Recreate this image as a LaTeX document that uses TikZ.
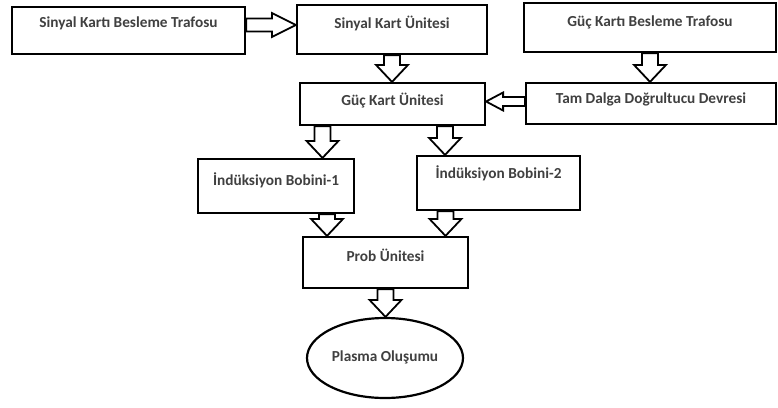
\documentclass[tikz,border=0pt]{standalone}
\usepackage{fontspec}
\setmainfont{Carlito}
\usetikzlibrary{
  backgrounds,
  calc,
  positioning,
  shapes.geometric
}
\tikzset{
  shaft half/.store in=\shafthalf,
  head half/.store in=\headhalf,
  head len/.store in=\headlen,
  shaft half=8pt,
  head half=16pt,
  head len=17pt,
  hollow flow/.style={
    draw=black,
    line width=1.8pt,
    fill=white,
    line join=miter,
    to path={
      ($(\tikztostart)!\shafthalf!90:(\tikztotarget)$)
      -- ($($(\tikztotarget)!\headlen!(\tikztostart)$)!\shafthalf!-90:(\tikztostart)$)
      -- ($($(\tikztotarget)!\headlen!(\tikztostart)$)!\headhalf!-90:(\tikztostart)$)
      -- (\tikztotarget)
      -- ($($(\tikztotarget)!\headlen!(\tikztostart)$)!\headhalf!90:(\tikztostart)$)
      -- ($($(\tikztotarget)!\headlen!(\tikztostart)$)!\shafthalf!90:(\tikztostart)$)
      -- ($(\tikztostart)!\shafthalf!-90:(\tikztotarget)$)
      -- cycle
    }
  },
  box/.style={
    draw=black,
    line width=2.2pt,
    fill=white,
    align=center,
    inner sep=0pt,
    text=black!75,
    text height=10.5pt,
    font=\fontsize{15.3}{18}\selectfont\bfseries
  },
  endstate/.style={
    box,
    ellipse,
    text depth=3pt
  }
}

\begin{document}
\begin{tikzpicture}[x=1pt,y=-1pt]
  \useasboundingbox (0,0) rectangle (778,407);

  % top row
  \node[box,minimum width=233pt,minimum height=47pt,text depth=16.5pt] (sigtrafo) at (128.5,30.5) {Sinyal Kartı Besleme Trafosu};
  \node[box,minimum width=190pt,minimum height=49pt,text depth=12.5pt] (sigcard) at (392,29.5) {Sinyal Kart Ünitesi};
  \node[box,minimum width=252pt,minimum height=49pt,text depth=12.5pt] (powtrafo) at (650,27.5) {Güç Kartı Besleme Trafosu};

  % power stage
  \node[box,minimum width=185pt,minimum height=42pt,text depth=7.5pt] (powcard) at (392.5,104) {Güç Kart Ünitesi};
  \node[box,minimum width=250pt,minimum height=41pt,text depth=10.5pt] (rectifier) at (651,103.5) {Tam Dalga Doğrultucu Devresi};

  % coils
  \node[box,minimum width=156pt,minimum height=54pt,text depth=11.5pt] (coil1) at (276,186) {İndüksiyon Bobini-1};
  \node[box,minimum width=163pt,minimum height=54pt,text depth=19.5pt] (coil2) at (498.5,183) {İndüksiyon Bobini-2};

  % probe and plasma
  \node[box,minimum width=165pt,minimum height=51pt,text depth=12.5pt] (probe) at (385.5,262.5) {Prob Ünitesi};
  \node[endstate,minimum width=156pt,minimum height=80pt] (plasma) at (385,358) {Plasma Oluşumu};

  \coordinate (a1) at ([yshift=5.5pt]sigtrafo.east);
  \coordinate (a4) at ([yshift=2pt]rectifier.west);
  \coordinate (a5) at ([xshift=-70pt]powcard.south);
  \coordinate (a6) at ([xshift=52.5pt]powcard.south);
  \coordinate (a7) at ([xshift=51pt]coil1.south);
  \coordinate (a8) at ([xshift=-53pt]coil2.south);

  \begin{scope}[on background layer]
    \draw[hollow flow,shaft half=6.5pt,head half=12pt,head len=24pt] (a1) to (a1 -| sigcard.west);
    \draw[hollow flow] (sigcard.south) to (sigcard.south |- powcard.north);
    \draw[hollow flow] (powtrafo.south) to (powtrafo.south |- rectifier.north);
    \draw[hollow flow,shaft half=4.5pt,head half=9pt] (a4) to (a4 -| powcard.east);
    \draw[hollow flow] (a5) to (a5 |- coil1.north);
    \draw[hollow flow] (a6) to (a6 |- coil2.north);
    \draw[hollow flow] (a7) to (a7 |- probe.north);
    \draw[hollow flow] (a8) to (a8 |- probe.north);
    \draw[hollow flow] (probe.south) to (probe.south |- plasma.north);
  \end{scope}
\end{tikzpicture}
\end{document}
